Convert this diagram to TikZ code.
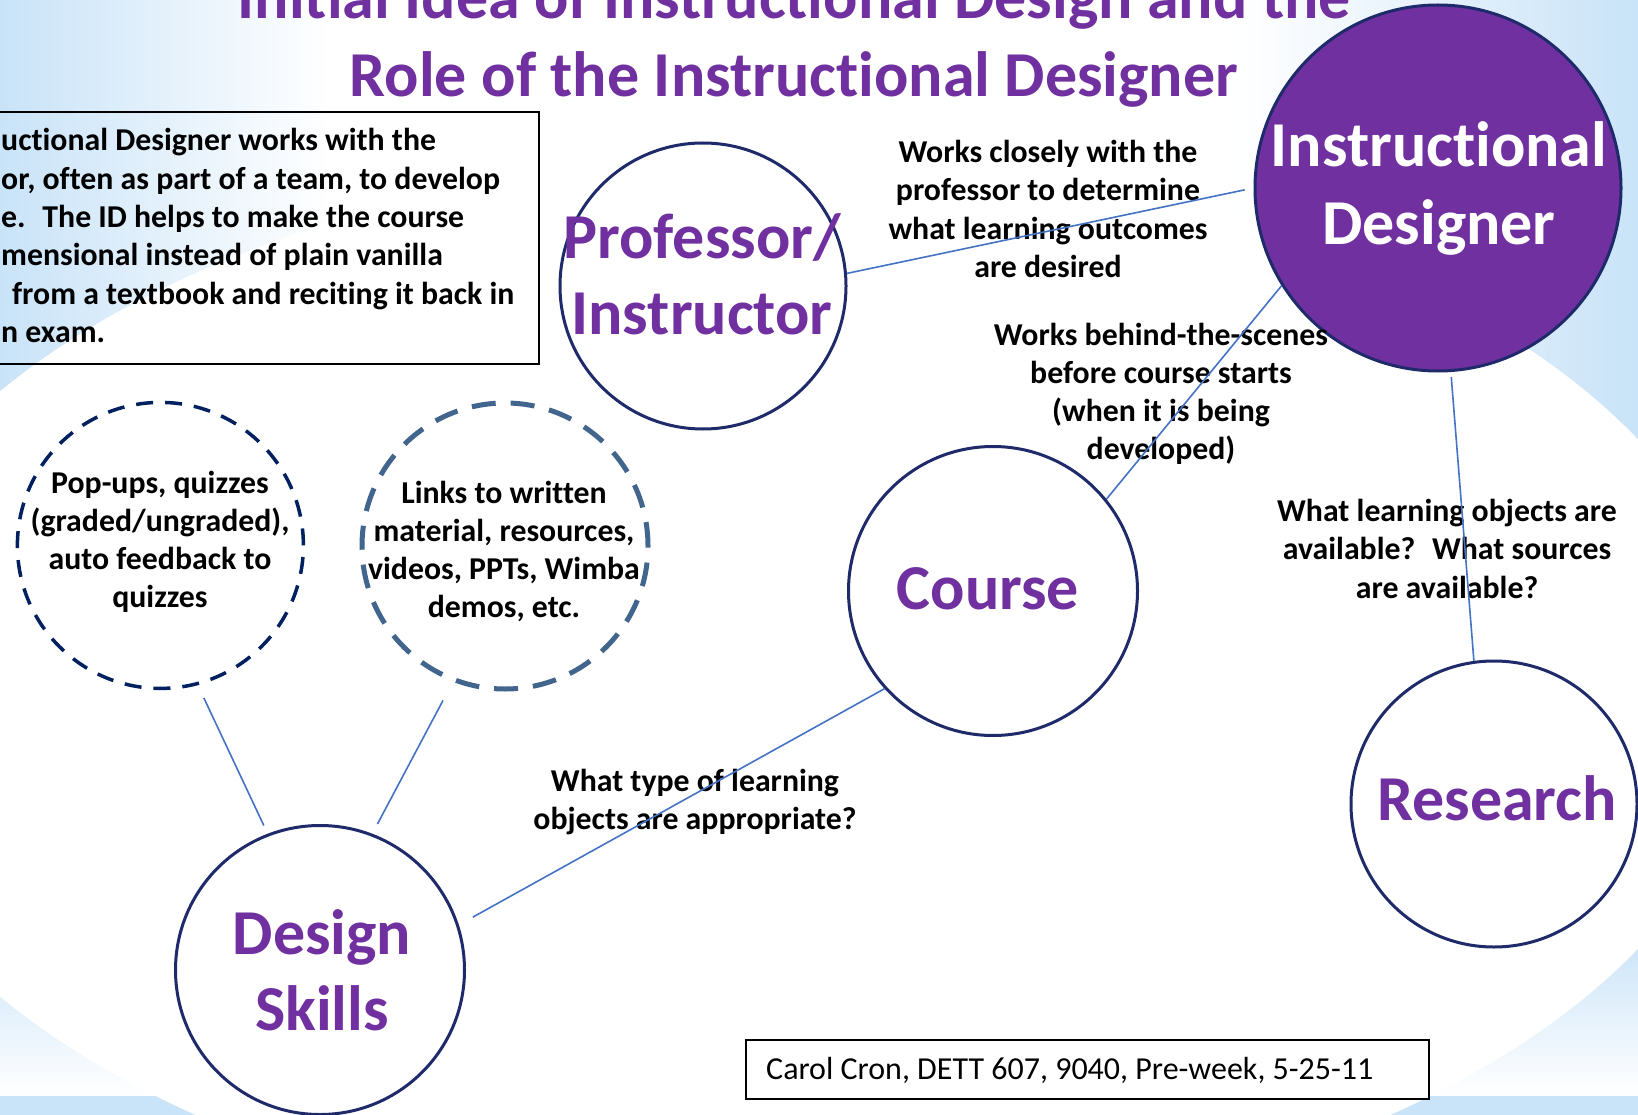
\documentclass[tikz,border=0pt]{standalone}
\usepackage{fontspec}
\setmainfont{Carlito}[Ligatures=NoCommon]
\usetikzlibrary{calc}
\definecolor{idpurple}{HTML}{7030A0}
\definecolor{navyline}{HTML}{1F2A6B}
\definecolor{dnavy}{HTML}{002060}
\definecolor{steelline}{HTML}{41658C}
\definecolor{connblue}{HTML}{4472C4}
\definecolor{bgblue}{HTML}{C9E3F8}
\newcommand{\mlc}[1]{\begin{tabular}[t]{@{}c@{}}#1\end{tabular}}
\newcommand{\mll}[1]{\begin{tabular}[t]{@{}l@{}}#1\end{tabular}}
\tikzset{
  lbl/.style={font=\bfseries\fontsize{31.8}{38.3}\selectfont, inner sep=0pt, anchor=base},
  bigtxt/.style={font=\bfseries\fontsize{64}{77.6}\selectfont, inner sep=0pt, anchor=base, text=idpurple},
  solidc/.style={circle, draw=navyline, line width=3pt, inner sep=0pt},
  dashca/.style={circle, draw=dnavy, line width=3.5pt, inner sep=0pt, dash pattern=on 17pt off 12pt},
  dashcb/.style={circle, draw=steelline, line width=5pt, inner sep=0pt, dash pattern=on 24pt off 15pt},
  connl/.style={draw=connblue, line width=1.6pt},
  framebox/.style={draw=black, line width=2pt, inner sep=0pt, anchor=north west}
}
\begin{document}
\begin{tikzpicture}[x=1pt,y=-1pt]
\useasboundingbox (0,0) rectangle (1638,1115);
\clip (0,0) rectangle (1638,1115);
% background
\fill[white] (0,0) rectangle (1638,1115);
\shade[left color=bgblue, right color=white] (0,0) rectangle (330,1115);
\shade[left color=white, right color=bgblue] (1240,0) rectangle (1638,1115);
\shade[top color=bgblue, bottom color=white] (0,930) rectangle (1638,1096);
\shade[left color=bgblue, middle color=white, right color=bgblue] (0,1096) rectangle (1638,1115);
\fill[white] (793,694) ellipse [x radius=959, y radius=538];

% title
\node[bigtxt] (title) at (794,19) {\mlc{Initial Idea of Instructional Design and the\\Role of the Instructional Designer}};

% circles
\node[solidc, minimum size=286pt] (prof) at (703,286) {};
\node[circle, fill=idpurple, draw=navyline, line width=3pt, inner sep=0pt, minimum size=366pt] (id) at (1438,188) {};
\node[solidc, minimum size=289pt] (course) at (993,591) {};
\node[solidc, minimum size=286pt] (research) at (1494,804) {};
\node[solidc, minimum size=289pt] (design) at (320,970) {};
\node[dashca, minimum size=286pt] (pop) at (160.4,545.4) {};
\node[dashcb, minimum size=286pt] (links) at (505,546) {};

% circle texts
\node[bigtxt, text=white] (idtext) at (1439,166.5) {\mlc{Instructional\\Designer}};
\node[bigtxt, font=\bfseries\fontsize{64}{76}\selectfont] (proftext) at (702,259) {\mlc{Professor/\\Instructor}};
\node[bigtxt] (coursetext) at (988,609) {Course};
\node[bigtxt] (researchtext) at (1497,820) {Research};
\node[bigtxt, font=\bfseries\fontsize{64}{76}\selectfont] (designtext) at (322,954) {\mlc{Design\\Skills}};
\node[lbl] (poptext) at (160,493) {\mlc{Pop-ups, quizzes\\(graded/ungraded),\\auto feedback to\\quizzes}};
\node[lbl] (linkstext) at (504,503) {\mlc{Links to written\\material, resources,\\videos, PPTs, Wimba\\demos, etc.}};

% info box
\node[framebox, minimum width=545pt, minimum height=251.7pt] (infobox) at (-7,111) {};
\node[lbl, anchor=base west] (infotext) at (1,151) {\mll{uctional Designer works with the\\or, often as part of a team, to develop\\e.~ The ID helps to make the course\\mensional instead of plain vanilla\\\hspace*{11pt}from a textbook and reciting it back in\\n exam.}};

% connector labels
\node[lbl] (lblA) at (1048,162.5) {\mlc{Works closely with the\\professor to determine\\what learning outcomes\\are desired}};
\node[lbl] (lblB) at (1161,345) {\mlc{Works behind-the-scenes\\before course starts\\(when it is being\\developed)}};
\node[lbl] (lblC) at (1447,521.5) {\mlc{What learning objects are\\available?~ What sources\\are available?}};
\node[lbl] (lblD) at (695,791) {\mlc{What type of learning\\objects are appropriate?}};

% connectors
\draw[connl, shorten >=9pt] (prof.5) -- (id.180);
\draw[connl] (id.212) -- (course.39);
\draw[connl, shorten <=5pt] (id.274) -- (research.98);
\draw[connl, shorten >=16pt] (course.222) -- (design.18);
\draw[connl, shorten <=9pt, shorten >=14pt] (design.111) -- (pop.285);
\draw[connl, shorten <=11pt, shorten >=21pt] (design.69) -- (links.249.5);

% footer
\node[framebox, minimum width=683pt, minimum height=59pt] (footbox) at (745,1039) {};
\node[font=\fontsize{32}{38}\selectfont, inner sep=0pt, anchor=base west] (foot) at (766,1079) {Carol Cron, DETT 607, 9040, Pre-week, 5-25-11};
\end{tikzpicture}
\end{document}
